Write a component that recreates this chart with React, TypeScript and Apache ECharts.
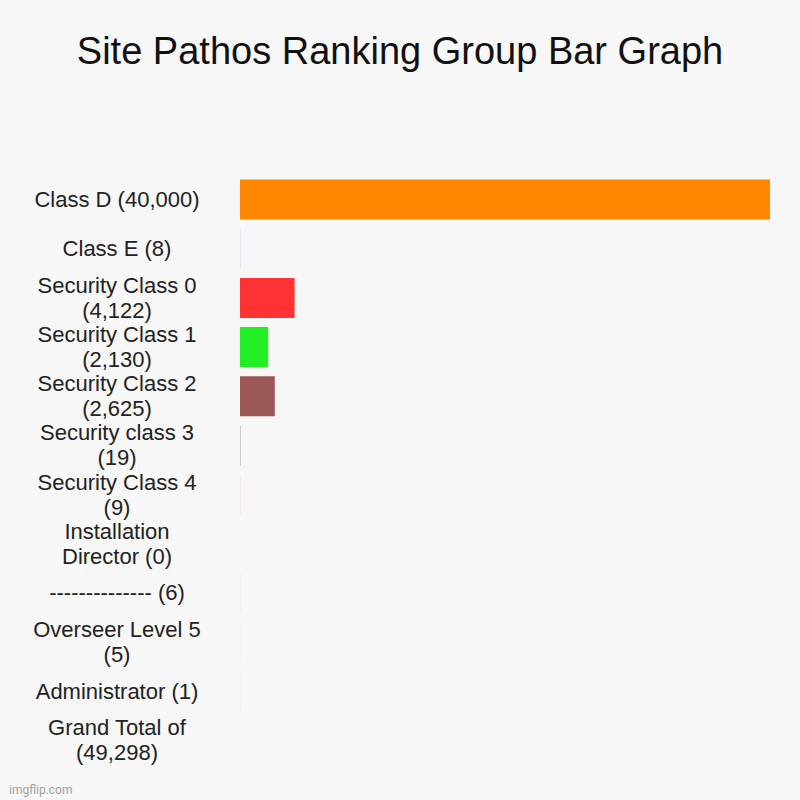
import * as echarts from 'echarts';
import React, { useEffect, useRef } from 'react';

const categories = [
  'Class D (40,000)',
  'Class E (8)',
  'Security Class 0\n(4,122)',
  'Security Class 1\n(2,130)',
  'Security Class 2\n(2,625)',
  'Security class 3\n(19)',
  'Security Class 4\n(9)',
  'Installation\nDirector (0)',
  '-------------- (6)',
  'Overseer Level 5\n(5)',
  'Administrator (1)',
  'Grand Total of\n(49,298)',
];

const values = [40000, 8, 4122, 2130, 2625, 19, 9, 0, 6, 5, 1, 0];

const barColors = [
  '#ff8800',
  '#e6e6fa',
  '#ff3333',
  '#22ee22',
  '#9c5656',
  '#cccccc',
  '#fbe4f5',
  '#f7f7f7',
  '#f0f5e1',
  '#f4f4f4',
  '#f0f0f0',
  '#f7f7f7',
];

const App: React.FC = () => {
  const chartRef = useRef<HTMLDivElement>(null);

  useEffect(() => {
    document.body.style.margin = '0';
    let chart: echarts.ECharts | undefined;
    if (chartRef.current) {
      chart = echarts.init(chartRef.current, undefined, { renderer: 'svg' });

      const option: echarts.EChartsOption = {
        animation: false,
        backgroundColor: '#f7f7f7',
        title: {
          text: 'Site Pathos Ranking Group Bar Graph',
          left: 'center',
          top: 27,
          textStyle: {
            fontFamily: 'Liberation Sans, Arial, sans-serif',
            fontSize: 38,
            fontWeight: 'normal',
            color: '#111',
          },
        },
        grid: {
          left: 240,
          right: 30,
          top: 175,
          bottom: 35,
        },
        xAxis: {
          type: 'value',
          min: 0,
          max: 40000,
          show: false,
        },
        yAxis: {
          type: 'category',
          inverse: true,
          data: categories,
          axisLine: { show: false },
          axisTick: { show: false },
          splitLine: { show: false },
          axisLabel: {
            align: 'center',
            margin: 123,
            fontFamily: 'Liberation Sans, Arial, sans-serif',
            fontSize: 22,
            lineHeight: 25,
            color: '#222',
          },
        },
        series: [
          {
            type: 'bar',
            barWidth: 40,
            barMinHeight: 1,
            data: values.map((v, i) => ({
              value: v,
              itemStyle: { color: barColors[i] },
            })),
          },
        ],
        graphic: [
          {
            type: 'text',
            left: 9,
            top: 784,
            style: {
              text: 'imgflip.com',
              fontFamily: 'Roboto, Liberation Sans, sans-serif',
              fontSize: 12,
              fill: '#a0a0a0',
            },
          },
        ],
      };

      chart.setOption(option);
    }

    return () => {
      chart?.dispose();
    };
  }, []);

  return <div ref={chartRef} style={{ width: '800px', height: '800px' }} />;
};

export default App;
